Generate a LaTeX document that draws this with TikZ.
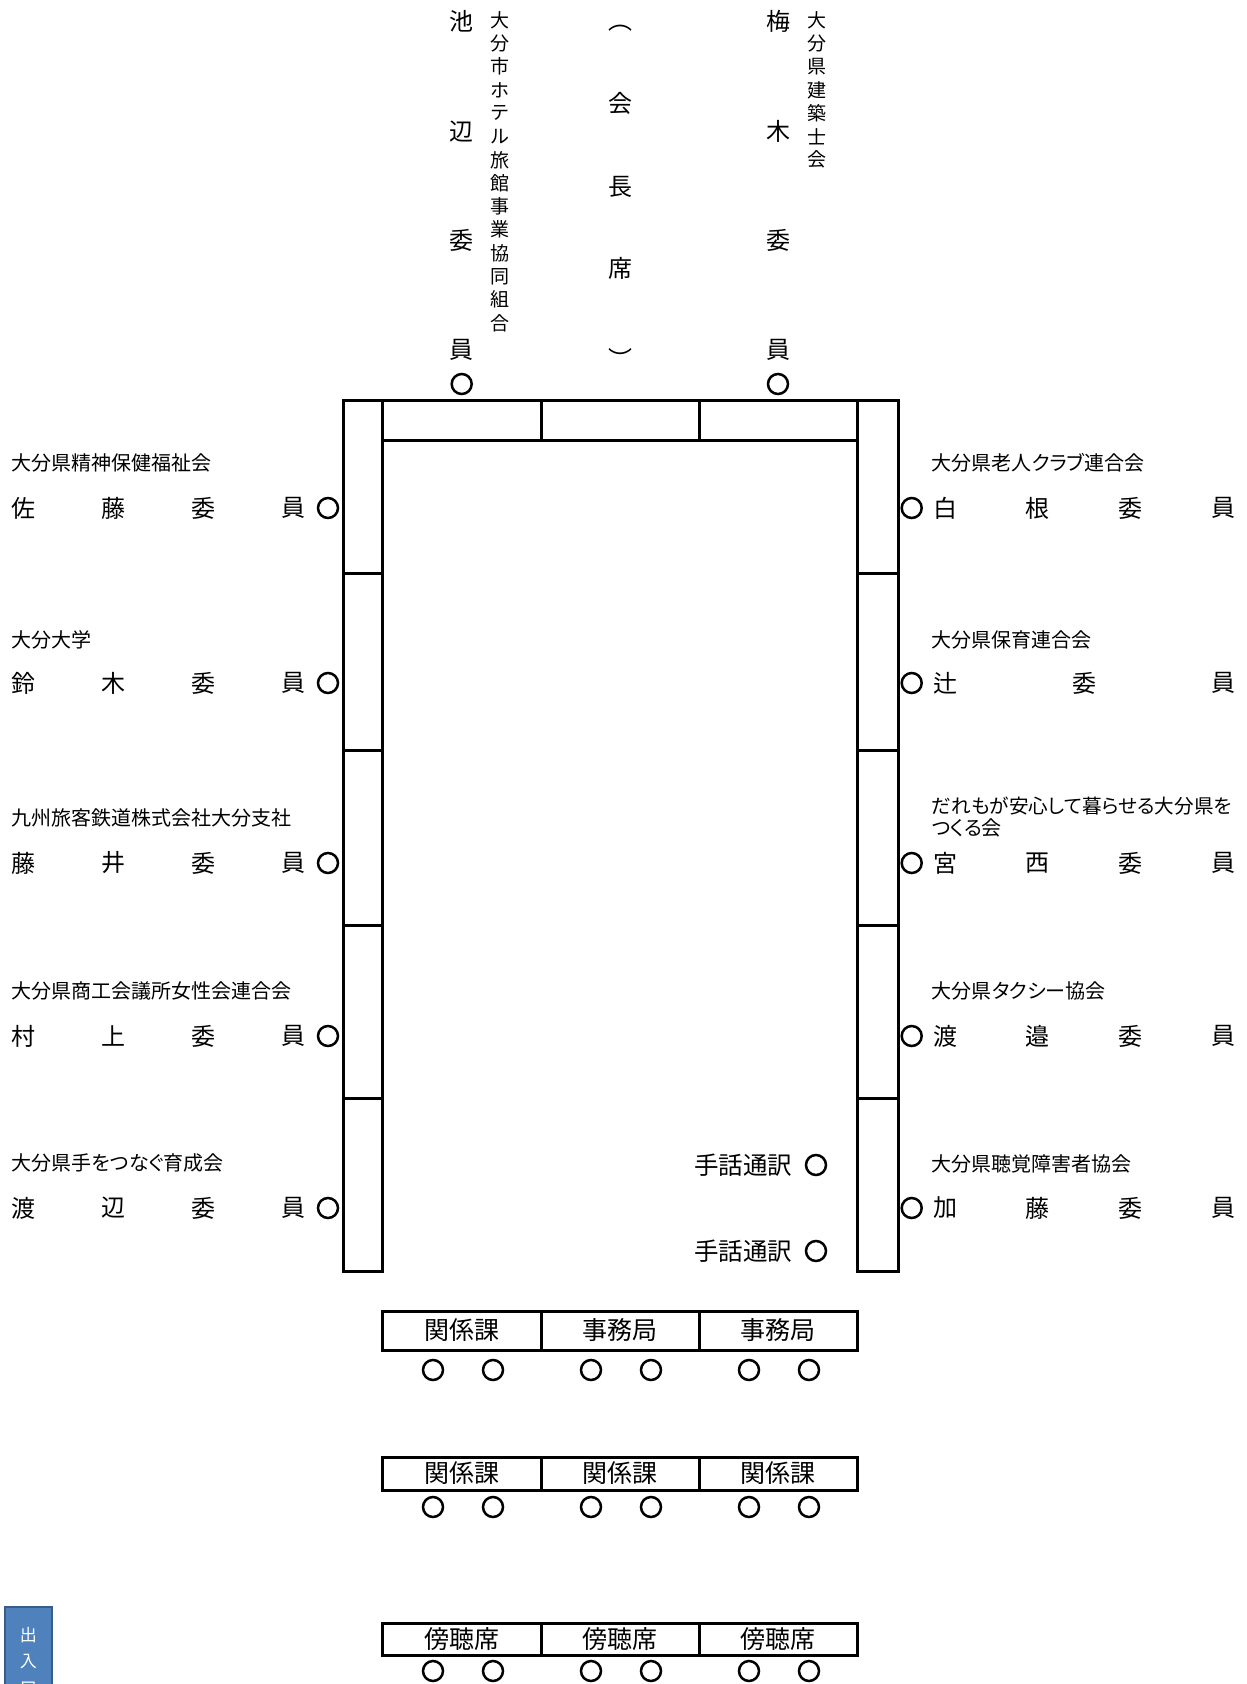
\documentclass[tikz,border=0pt]{standalone}
\usepackage{fontspec}
\setmainfont{Noto Sans CJK JP}
\newfontfamily\labfont[RawFeature=+palt]{Noto Sans CJK JP}
\definecolor{doorfill}{HTML}{4F81BD}
\definecolor{doorline}{HTML}{385D8A}
\begin{document}
\begin{tikzpicture}[x=1pt,y=-1pt,
  tbl/.style={line width=3pt},
  seat/.style={circle,draw,line width=2.5pt,minimum size=20pt,inner sep=0pt},
  nm/.style={inner sep=0pt,font=\fontsize{24}{24}\selectfont},
  lab/.style={inner sep=0pt,anchor=west,font=\labfont\fontsize{20}{22}\selectfont},
  sm/.style={inner sep=0pt,font=\fontsize{19}{19}\selectfont},
  hw/.style={inner sep=0pt,anchor=west,font=\fontsize{24.5}{25}\selectfont},
  tl/.style={inner sep=0pt,font=\fontsize{25}{25}\selectfont},
  door/.style={inner sep=0pt,text=white,font=\fontsize{17}{17}\selectfont}]
\useasboundingbox (0,0) rectangle (1247,1684);
\clip (0,0) rectangle (1247,1684);

% ---- main table frame ----
\draw[tbl] (343,400) rectangle (382,1271);
\draw[tbl] (857,400) rectangle (898,1271);
\foreach \yy in {573,750,925,1098}{
  \draw[tbl] (343,\yy) -- (382,\yy);
  \draw[tbl] (857,\yy) -- (898,\yy);
}
\draw[tbl] (382,400) -- (857,400);
\draw[tbl] (382,440) -- (857,440);
\draw[tbl] (541,400) -- (541,440);
\draw[tbl] (699,400) -- (699,440);

% ---- top: chair and two members ----
\foreach \c [count=\i] in {池,辺,委,員}
  \node[nm] (ike\i) at (461.7,{21.7+(\i-1)*109.4}) {\c};
\foreach \c [count=\i] in {大,分,市,ホ,テ,ル,旅,館,事,業,協,同,組,合}
  \node[sm] (hotel\i) at (500,{20+(\i-1)*23.3}) {\c};
\node[seat] (seatike) at (461.7,384) {};

\node[nm] (ch1) at (620,28) {︵};
\node[nm] (ch2) at (620,103) {会};
\node[nm] (ch3) at (620,187) {長};
\node[nm] (ch4) at (620,268) {席};
\node[nm] (ch5) at (620,358) {︶};

\foreach \c [count=\i] in {梅,木,委,員}
  \node[nm] (ume\i) at (778,{21.7+(\i-1)*109.4}) {\c};
\foreach \c [count=\i] in {大,分,県,建,築,士,会}
  \node[sm] (arch\i) at (816.7,{20+(\i-1)*23.3}) {\c};
\node[seat] (seatume) at (778,384) {};

% ---- left side ----
\node[lab] (ll1) at (11.7,463) {大分県精神保健福祉会};
\node[lab] (ll2) at (11.7,640) {大分大学};
\node[lab] (ll3) at (11.7,818) {九州旅客鉄道株式会社大分支社};
\node[lab] (ll4) at (11.7,991) {大分県商工会議所女性会連合会};
\node[lab] (ll5) at (11.7,1163) {大分県手をつなぐ育成会};

\foreach \a/\b/\yy [count=\i] in {佐/藤/508,鈴/木/683,藤/井/863,村/上/1036,渡/辺/1208}{
  \node[nm] (ln\i a) at (23,\yy) {\a};
  \node[nm] (ln\i b) at (113,\yy) {\b};
  \node[nm] (ln\i c) at (203,\yy) {委};
  \node[nm] (ln\i d) at (293,\yy) {員};
  \node[seat] (ls\i) at (328,\yy) {};
}

% ---- right side ----
\node[lab] (rl1) at (931.7,463) {大分県老人クラブ連合会};
\node[lab] (rl2) at (931.7,640) {大分県保育連合会};
\node[lab,font=\labfont\fontsize{19.6}{22}\selectfont] (rl3a) at (931.7,806) {だれもが安心して暮らせる大分県を};
\node[lab] (rl3b) at (931.7,828) {つくる会};
\node[lab] (rl4) at (931.7,991) {大分県タクシー協会};
\node[lab] (rl5) at (931.7,1164) {大分県聴覚障害者協会};

\foreach \a/\b/\yy [count=\i] in {白/根/508,宮/西/863,渡/邉/1036,加/藤/1208}{
  \node[nm] (rn\i a) at (945,\yy) {\a};
  \node[nm] (rn\i b) at (1037,\yy) {\b};
  \node[nm] (rn\i c) at (1130,\yy) {委};
  \node[nm] (rn\i d) at (1223,\yy) {員};
  \node[seat] (rs\i) at (911.7,\yy) {};
}
\node[nm] (rt1) at (945,683) {辻};
\node[nm] (rt2) at (1084,683) {委};
\node[nm] (rt3) at (1223,683) {員};
\node[seat] (rts) at (911.7,683) {};

% ---- sign language interpreters ----
\node[hw] (sl1) at (694,1165) {手話通訳};
\node[seat] (sls1) at (816,1165) {};
\node[hw] (sl2) at (694,1251) {手話通訳};
\node[seat] (sls2) at (816,1251) {};

% ---- lower tables ----
\foreach \top/\bot/\cy/\ta/\tb/\tc [count=\k] in
  {1311/1350/1370/関係課/事務局/事務局,
   1457/1490/1507/関係課/関係課/関係課,
   1623/1655/1671/傍聴席/傍聴席/傍聴席}{
  \draw[tbl] (382,\top) rectangle (857,\bot);
  \draw[tbl] (541,\top) -- (541,\bot);
  \draw[tbl] (699,\top) -- (699,\bot);
  \node[tl] (t\k a) at (461.5,{(\top+\bot)/2}) {\ta};
  \node[tl] (t\k b) at (620,{(\top+\bot)/2}) {\tb};
  \node[tl] (t\k c) at (778,{(\top+\bot)/2}) {\tc};
  \foreach \xx [count=\j] in {433,493,591,651,749,809}
    \node[seat] (ts\k-\j) at (\xx,\cy) {};
}

% ---- entrance ----
\draw[line width=2pt,draw=doorline,fill=doorfill] (5,1607) rectangle (51.7,1730);
\node[door] (d1) at (28.3,1635) {出};
\node[door] (d2) at (28.3,1662) {入};
\node[door] (d3) at (28.3,1689) {口};
\end{tikzpicture}
\end{document}
